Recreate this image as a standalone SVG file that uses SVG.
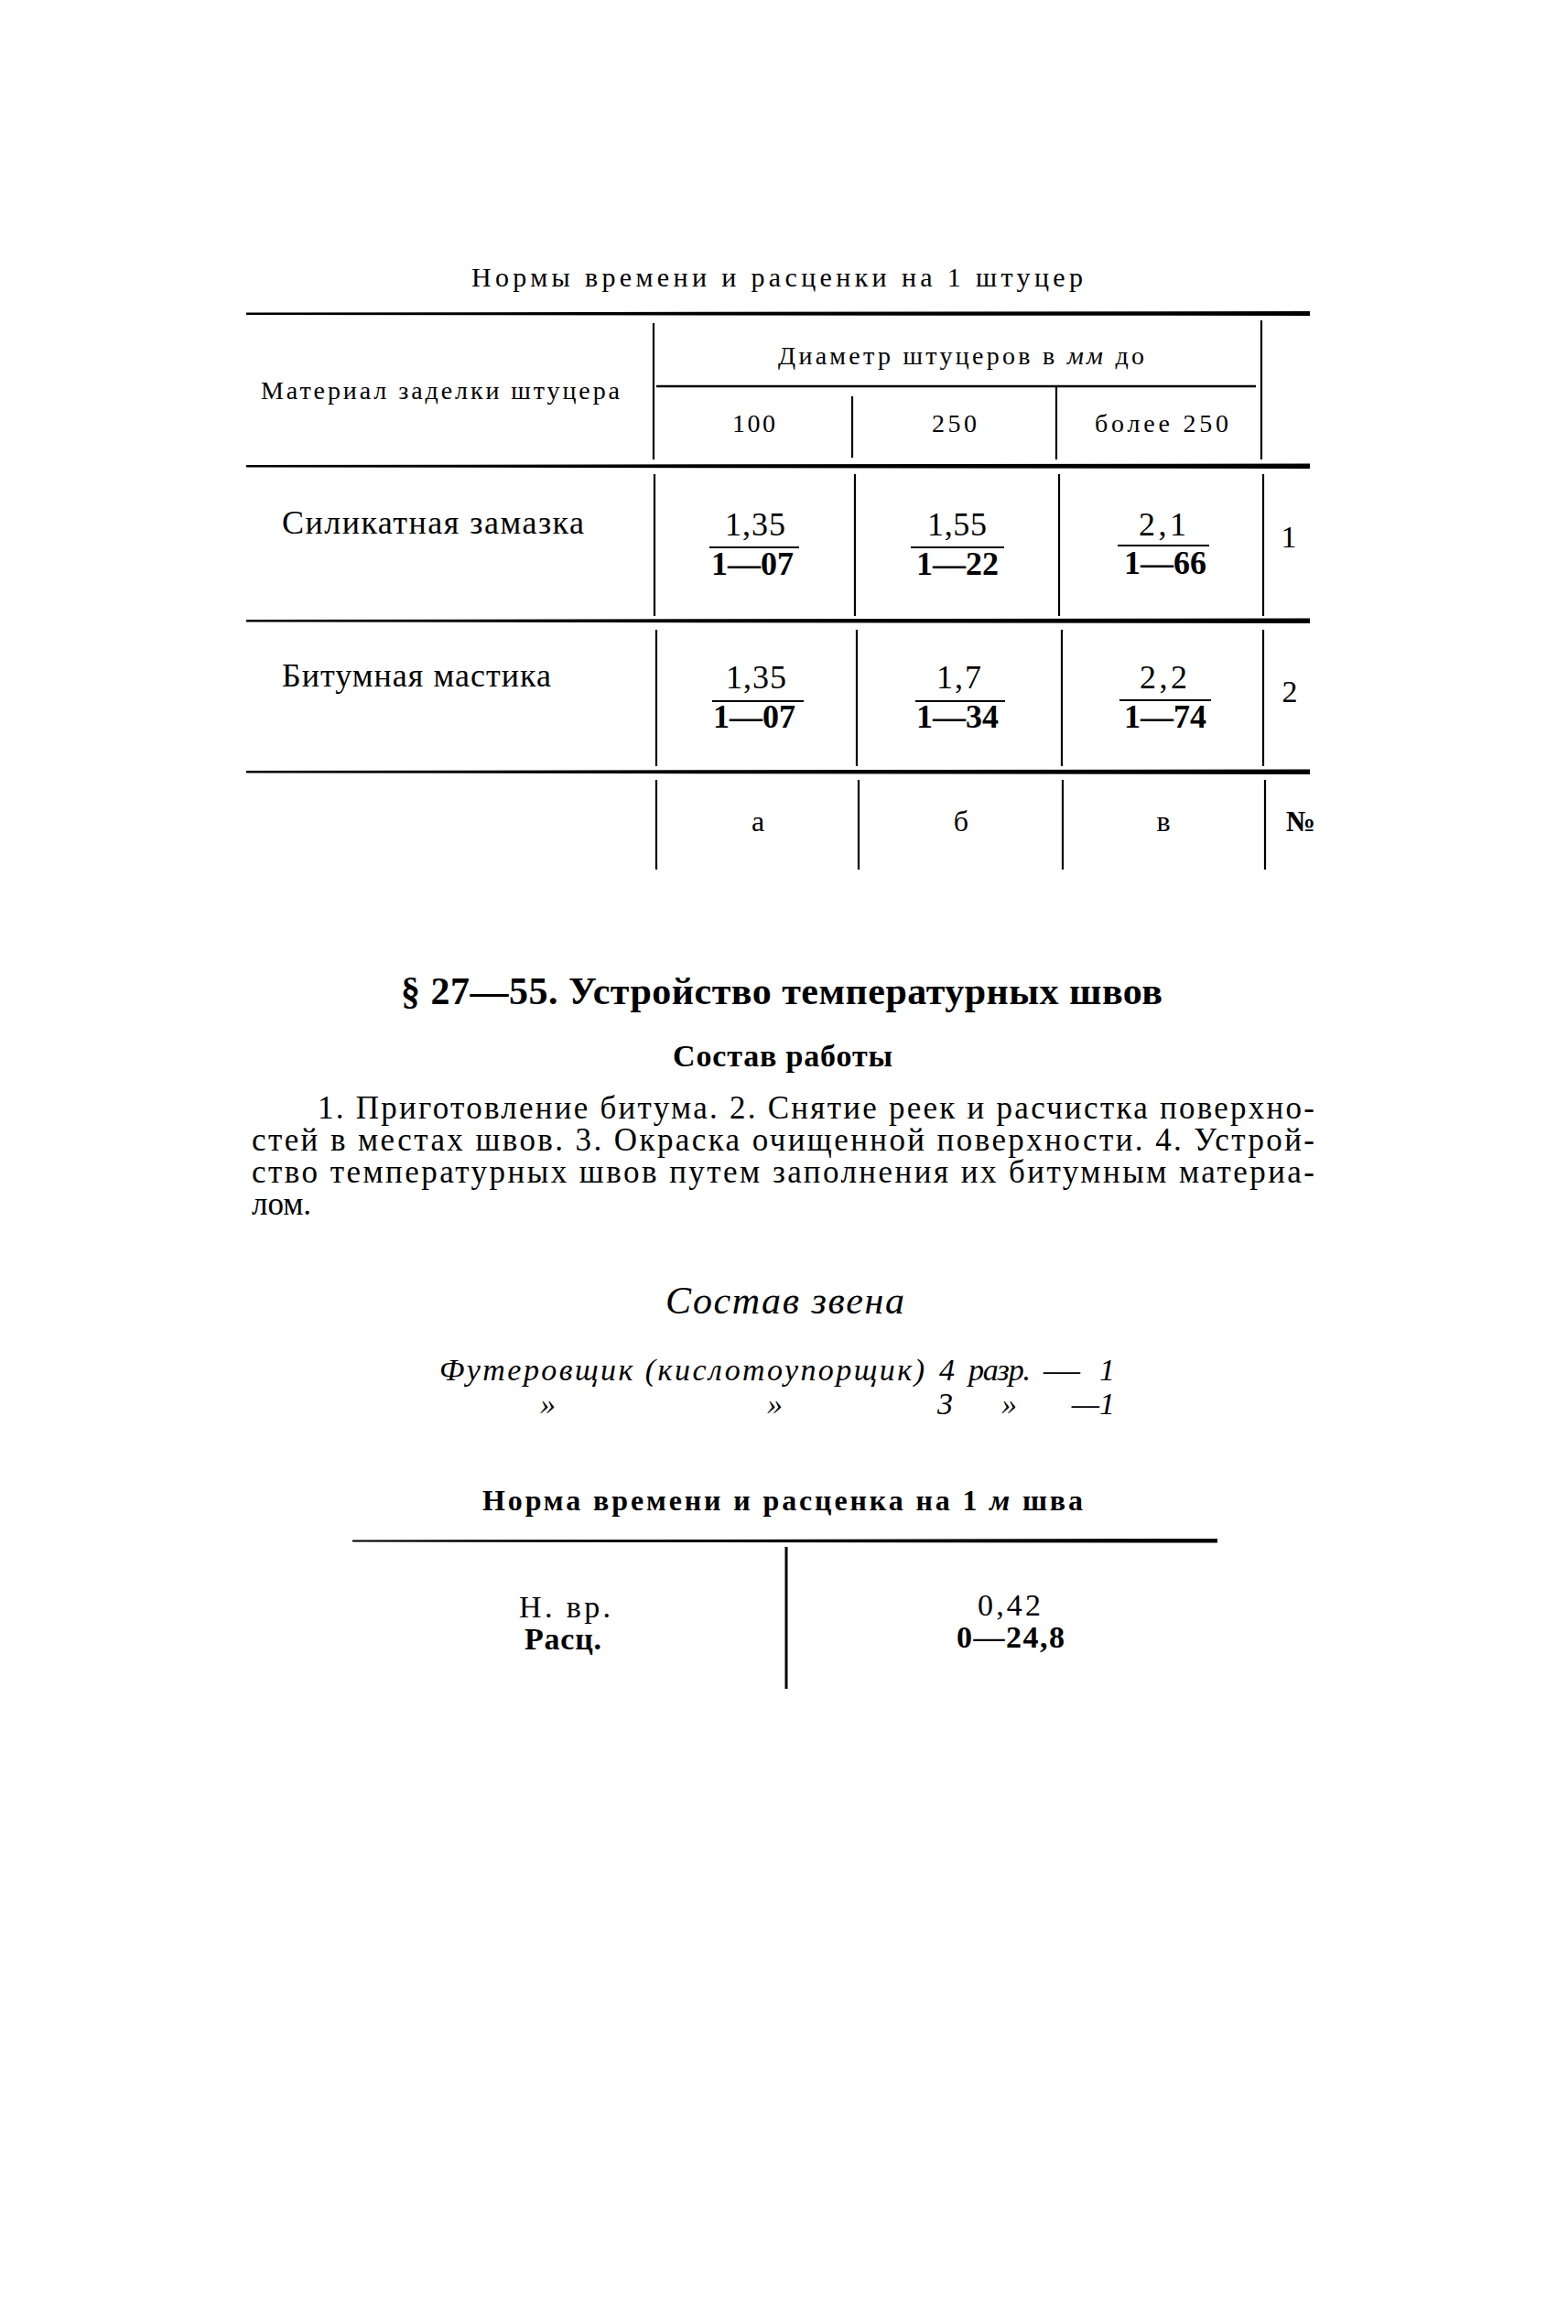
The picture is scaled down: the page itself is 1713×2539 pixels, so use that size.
<svg xmlns="http://www.w3.org/2000/svg" width="1713" height="2539" viewBox="0 0 1713 2539">
<style>
text{font-family:"Liberation Serif","DejaVu Serif",serif;fill:#000}
.s28{font-size:28px}
.s30{font-size:30px}
.s32{font-size:32px}
.s34{font-size:34px}
.s35{font-size:35px}
.s36{font-size:36px}
.b{font-weight:bold}
.i{font-style:italic}
.c{text-anchor:middle}
.e{text-anchor:end}
.v{stroke:#000;stroke-width:2.2;fill:none}
.rule{fill:#000}
</style>
<rect width="1713" height="2539" fill="#fff"/>

<g id="table1-title">
<text class="s30" x="515" y="313" textLength="668" lengthAdjust="spacing">Нормы времени и расценки на 1 штуцер</text>
</g>

<g id="table1-lines">
<path class="rule" d="M269 341.5 L1431 340 L1431 345 L269 344 Z"/>
<line class="v" x1="714" y1="353" x2="714" y2="502"/>
<line class="v" x1="1378" y1="350" x2="1378" y2="502"/>
<line class="v" x1="717" y1="422" x2="1372" y2="422" style="stroke-width:2.6"/>
<line class="v" x1="931" y1="433" x2="931" y2="500"/>
<line class="v" x1="1154" y1="423" x2="1154" y2="502"/>
<path class="rule" d="M269 508 L1431 506.5 L1431 512 L269 510.5 Z"/>
<line class="v" x1="715" y1="518" x2="715" y2="673"/>
<line class="v" x1="934" y1="518" x2="934" y2="673"/>
<line class="v" x1="1157" y1="518" x2="1157" y2="673"/>
<line class="v" x1="1380" y1="518" x2="1380" y2="673"/>
<path class="rule" d="M269 677 L1431 675.5 L1431 681 L269 679.5 Z"/>
<line class="v" x1="717" y1="688" x2="717" y2="837"/>
<line class="v" x1="936" y1="688" x2="936" y2="837"/>
<line class="v" x1="1160" y1="688" x2="1160" y2="837"/>
<line class="v" x1="1380" y1="688" x2="1380" y2="837"/>
<path class="rule" d="M269 842 L1431 840.5 L1431 846 L269 844.5 Z"/>
<line class="v" x1="717" y1="852" x2="717" y2="950"/>
<line class="v" x1="938" y1="852" x2="938" y2="950"/>
<line class="v" x1="1161" y1="852" x2="1161" y2="950"/>
<line class="v" x1="1382" y1="852" x2="1382" y2="950"/>
</g>

<g id="table1-header">
<text class="s28" x="285" y="436" textLength="392" lengthAdjust="spacing">Материал заделки штуцера</text>
<text class="s28" x="850" y="398" textLength="400" lengthAdjust="spacing">Диаметр штуцеров в <tspan class="i">мм</tspan> до</text>
<text class="s28" x="800" y="472" textLength="47" lengthAdjust="spacing">100</text>
<text class="s28" x="1018" y="472" textLength="49" lengthAdjust="spacing">250</text>
<text class="s28" x="1196" y="472" textLength="146" lengthAdjust="spacing">более 250</text>
</g>

<g id="row1">
<text class="s36" x="308" y="583" textLength="330" lengthAdjust="spacing">Силикатная замазка</text>
<text class="s36" x="792" y="585" textLength="66" lengthAdjust="spacing">1,35</text>
<line class="v" x1="775" y1="598" x2="873" y2="598"/>
<text class="s36 c b" x="822" y="628">1—07</text>
<text class="s36" x="1013" y="585" textLength="65" lengthAdjust="spacing">1,55</text>
<line class="v" x1="995" y1="598" x2="1097" y2="598"/>
<text class="s36 c b" x="1046" y="628">1—22</text>
<text class="s36" x="1244" y="585" textLength="52" lengthAdjust="spacing">2,1</text>
<line class="v" x1="1221" y1="596" x2="1321" y2="596"/>
<text class="s36 c b" x="1273" y="627">1—66</text>
<text class="s34 c" x="1408" y="598">1</text>
</g>

<g id="row2">
<text class="s36" x="308" y="750" textLength="294" lengthAdjust="spacing">Битумная мастика</text>
<text class="s36" x="793" y="752" textLength="66" lengthAdjust="spacing">1,35</text>
<line class="v" x1="778" y1="766" x2="878" y2="766"/>
<text class="s36 c b" x="824" y="795">1—07</text>
<text class="s36" x="1023" y="752" textLength="49" lengthAdjust="spacing">1,7</text>
<line class="v" x1="1000" y1="766" x2="1098" y2="766"/>
<text class="s36 c b" x="1046" y="795">1—34</text>
<text class="s36" x="1245" y="752" textLength="52" lengthAdjust="spacing">2,2</text>
<line class="v" x1="1223" y1="765" x2="1323" y2="765"/>
<text class="s36 c b" x="1273" y="795">1—74</text>
<text class="s34 c" x="1409" y="767">2</text>
</g>

<g id="row3">
<text class="s32 c" x="828" y="908">а</text>
<text class="s32 c" x="1050" y="908">б</text>
<text class="s32 c" x="1271" y="908">в</text>
<text class="s32 c b" x="1421" y="908">№</text>
</g>

<g id="section-heading">
<text class="b" style="font-size:42px" x="438" y="1097" textLength="832" lengthAdjust="spacing">§ 27—55. Устройство температурных швов</text>
<text class="s34 b" x="735" y="1165" textLength="240" lengthAdjust="spacing">Состав работы</text>
</g>

<g id="paragraph">
<text class="s35" x="347" y="1222" textLength="1089" lengthAdjust="spacing">1. Приготовление битума. 2. Снятие реек и расчистка поверхно-</text>
<text class="s35" x="275" y="1257" textLength="1161" lengthAdjust="spacing">стей в местах швов. 3. Окраска очищенной поверхности. 4. Устрой-</text>
<text class="s35" x="275" y="1292" textLength="1161" lengthAdjust="spacing">ство температурных швов путем заполнения их битумным материа-</text>
<text class="s35" x="275" y="1327" textLength="65" lengthAdjust="spacing">лом.</text>
</g>

<g id="crew">
<text class="i" style="font-size:42px" x="727" y="1435" textLength="261" lengthAdjust="spacing">Состав звена</text>
<text class="s34 i" x="480" y="1508" textLength="530" lengthAdjust="spacing">Футеровщик (кислотоупорщик)</text>
<text class="s34 i" x="1026" y="1508">4</text>
<text class="s34 i" x="1058" y="1508" textLength="68" lengthAdjust="spacing">разр.</text>
<text class="s34 i" x="1140" y="1508" textLength="40" lengthAdjust="spacingAndGlyphs">—</text>
<text class="s34 i e" x="1218" y="1508">1</text>
<text class="s34 i" x="590" y="1545">»</text>
<text class="s34 i" x="838" y="1545">»</text>
<text class="s34 i" x="1024" y="1545">3</text>
<text class="s34 i" x="1094" y="1545">»</text>
<text class="s34 i e" x="1218" y="1545">—1</text>
</g>

<g id="table2">
<text class="s32 b" x="527" y="1650" textLength="656" lengthAdjust="spacing">Норма времени и расценка на 1 <tspan class="i">м</tspan> шва</text>
<path class="rule" d="M385 1682.5 L1330 1681 L1330 1685.5 L385 1684.5 Z"/>
<line class="v" x1="859" y1="1690" x2="859" y2="1845" style="stroke-width:3"/>
<text class="s34" x="567" y="1767" textLength="100" lengthAdjust="spacing">Н. вр.</text>
<text class="s34 b" x="573" y="1802" textLength="84" lengthAdjust="spacing">Расц.</text>
<text class="s34" x="1068" y="1765" textLength="69" lengthAdjust="spacing">0,42</text>
<text class="s34 b" x="1045" y="1800" textLength="118" lengthAdjust="spacing">0—24,8</text>
</g>
</svg>
